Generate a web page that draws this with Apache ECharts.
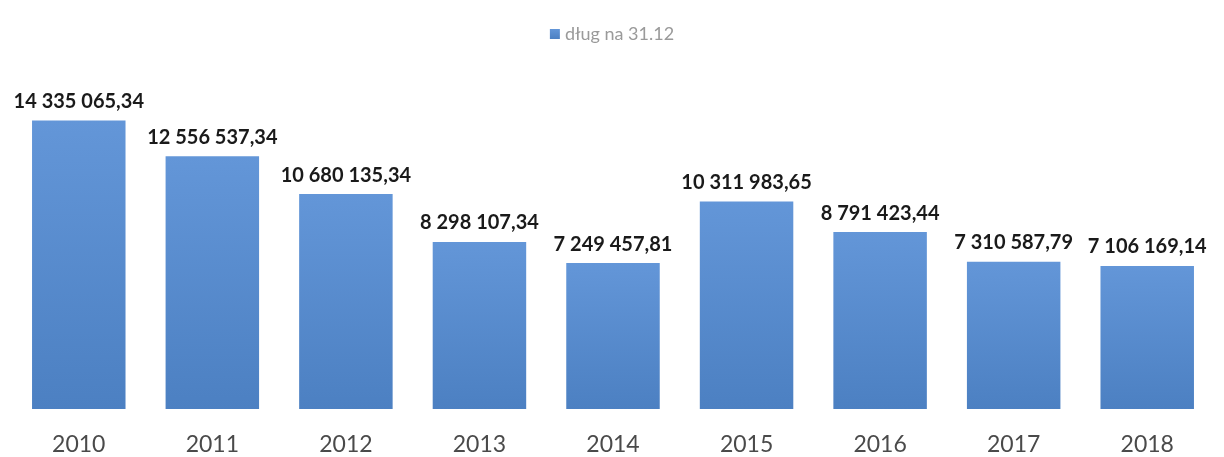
<!DOCTYPE html>
<html>
<head>
<meta charset="utf-8">
<script src="https://cdn.jsdelivr.net/npm/echarts@6/dist/echarts.min.js"></script>
<style>html,body{margin:0;padding:0;background:#fff}#c{width:1224px;height:457px}</style>
</head>
<body>
<div id="c"></div>
<script>
const categories = ['2010','2011','2012','2013','2014','2015','2016','2017','2018'];
const debtValues = [14335065.34, 12556537.34, 10680135.34, 8298107.34, 7249457.81, 10311983.65, 8791423.44, 7310587.79, 7106169.14];
const seriesName = 'dług na 31.12';

function fmt(v){
  const parts = v.toFixed(2).split('.');
  return parts[0].replace(/\B(?=(\d{3})+(?!\d))/g, ' ') + ',' + parts[1];
}

const chart = echarts.init(document.getElementById('c'));
chart.setOption({
  animation: false,
  textStyle: { fontFamily: 'Lato, "Open Sans", sans-serif' },
  legend: {
    top: 20, left: 'center',
    itemWidth: 10, itemHeight: 10, icon: 'rect', itemGap: 8,
    textStyle: { color: '#9a9a9a', fontSize: 18, fontFamily: 'Lato, sans-serif' },
    data: [seriesName]
  },
  grid: { left: 12, right: 10, top: 87, bottom: 48, containLabel: false },
  xAxis: {
    type: 'category', data: categories,
    axisLine: { show: false }, axisTick: { show: false },
    axisLabel: { color: '#4a4a4a', fontSize: 23, margin: 24, fontFamily: 'Lato, sans-serif' }
  },
  yAxis: {
    type: 'value', min: 0, max: 16000000,
    show: false, splitLine: { show: false }
  },
  series: [{
    name: seriesName, type: 'bar', data: debtValues, barWidth: '70%',
    itemStyle: {
      color: new echarts.graphic.LinearGradient(0,0,0,1,[
        {offset:0,color:'#6396d8'},{offset:1,color:'#4c80c2'}
      ])
    },
    label: {
      show: true, position: 'top', distance: 9,
      color: '#1a1a1a', fontSize: 20, fontWeight: 'bold',
      fontFamily: 'Lato, sans-serif',
      formatter: p => fmt(p.value)
    }
  }]
});
</script>
</body>
</html>
